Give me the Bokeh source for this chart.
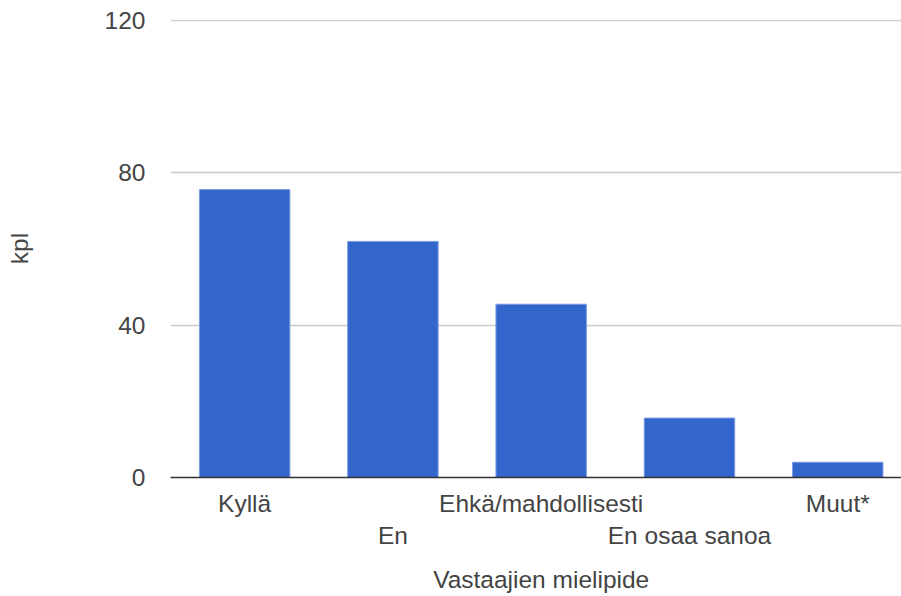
from bokeh.plotting import figure
from bokeh.models import Range1d, FixedTicker, LinearAxis
from bokeh.embed import file_html
from bokeh.resources import INLINE

categories = ["Kyllä", "En", "Ehkä/mahdollisesti", "En osaa sanoa", "Muut*"]
values = [75.6, 62, 45.5, 15.6, 4]
y_ticks = [0, 40, 80, 120]
x_title = "Vastaajien mielipide"
y_title = "kpl"

FONT = "Liberation Sans"
FS = "24.5px"
TXT = "#444444"
positions = list(range(len(categories)))

p = figure(width=901, height=596, output_backend="svg", toolbar_location=None,
           x_range=Range1d(-0.5, 4.43), y_range=Range1d(0, 120.26),
           min_border_left=170, min_border_right=0, min_border_top=19,
           min_border_bottom=119, x_axis_location=None)
p.outline_line_color = None
p.xgrid.visible = False
p.ygrid.ticker = FixedTicker(ticks=y_ticks)
p.ygrid.grid_line_color = "#cccccc"
p.ygrid.grid_line_width = 1.5

p.vbar(x=positions, top=values, width=0.61, fill_color="#3366cc",
       line_color="#7b9be3", line_width=1)

ya = p.yaxis[0]
ya.ticker = FixedTicker(ticks=y_ticks)
ya.axis_line_color = None
ya.major_tick_line_color = None
ya.minor_tick_line_color = None
ya.major_tick_out = 0
ya.major_label_standoff = 25
ya.major_label_text_font = FONT
ya.major_label_text_font_size = FS
ya.major_label_text_color = TXT
ya.axis_label = y_title
ya.axis_label_text_font = FONT
ya.axis_label_text_font_size = FS
ya.axis_label_text_font_style = "normal"
ya.axis_label_text_color = TXT
ya.axis_label_standoff = 69

even = positions[0::2]
odd = positions[1::2]
middle = (len(categories) - 1) / 2

ax_a = LinearAxis(ticker=FixedTicker(ticks=even),
                  major_label_overrides={i: categories[i] for i in even})
ax_b = LinearAxis(ticker=FixedTicker(ticks=odd),
                  major_label_overrides={i: categories[i] for i in odd})
# x-axis title as a single label centred under the middle category
ax_c = LinearAxis(ticker=FixedTicker(ticks=[middle]),
                  major_label_overrides={middle: x_title})
for ax in (ax_a, ax_b, ax_c):
    ax.major_tick_line_color = None
    ax.minor_tick_line_color = None
    ax.major_tick_out = 0
    ax.major_label_text_font = FONT
    ax.major_label_text_font_size = FS
    ax.major_label_text_color = TXT
ax_a.axis_line_color = "#333333"
ax_a.axis_line_width = 1.5
ax_a.major_label_standoff = 12
ax_b.axis_line_color = None
ax_b.major_label_standoff = 2
ax_c.axis_line_color = None
ax_c.major_label_standoff = 14
p.add_layout(ax_a, "below")
p.add_layout(ax_b, "below")
p.add_layout(ax_c, "below")

open("out.html", "w").write(file_html(p, INLINE))
